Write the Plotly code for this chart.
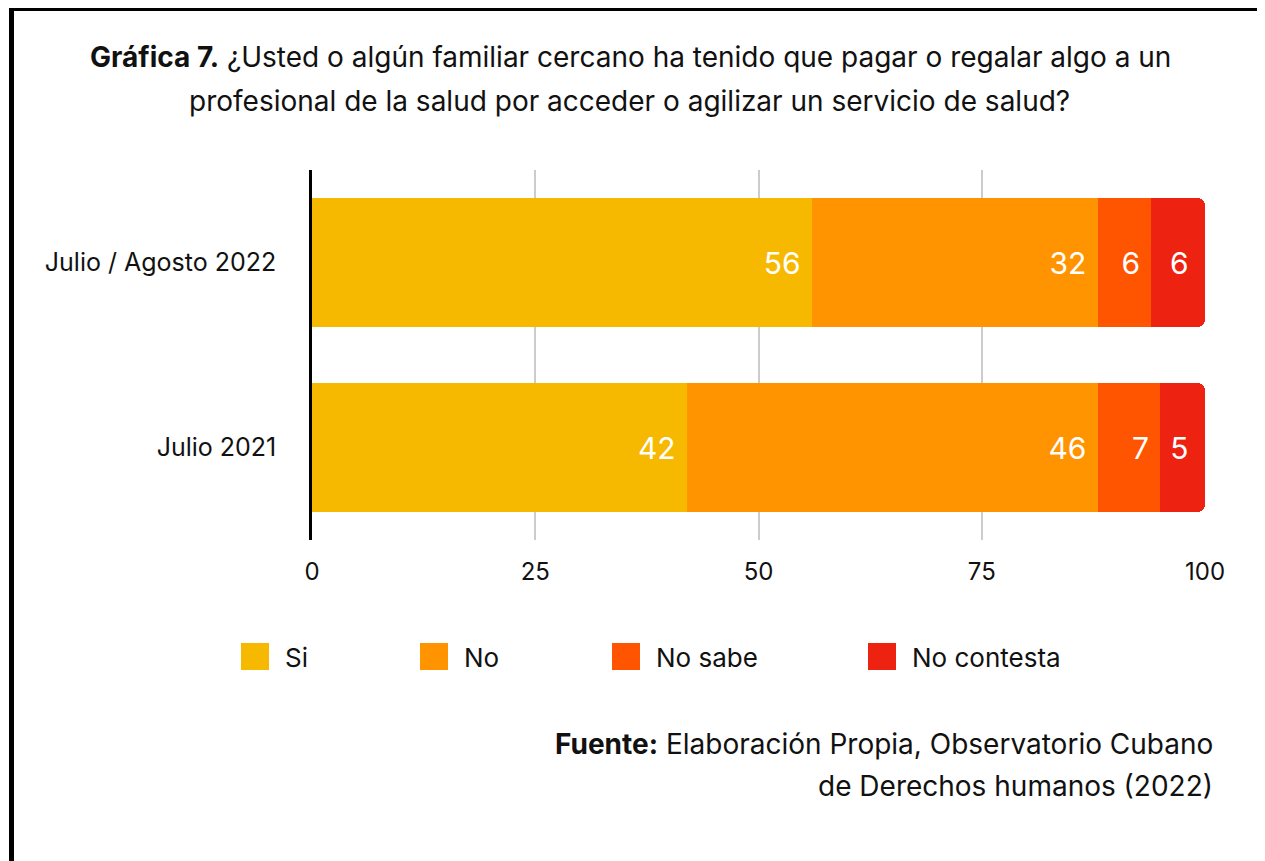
import plotly.graph_objects as go

categories = ["Julio 2021", "Julio / Agosto 2022"]
series_names = ["Si", "No", "No sabe", "No contesta"]
si = [42, 56]
no = [46, 32]
no_sabe = [7, 6]
no_contesta = [5, 6]
x_ticks = [0, 25, 50, 75, 100]
colors = ["#F7B900", "#FF9400", "#FF5500", "#EE2211"]

FONT = "Inter"
OFF = 8  # page body margin
W, H = 1257, 853
# plot area in screen pixels: x 312..1205, y 170..540
L, R, T, B = 312 - OFF, W - (1205 - OFF), 170 - OFF, H - (540 - OFF)
PW, PH = W - L - R, H - T - B


def px(xs):
    return (xs - OFF - L) / PW


def py(ys):
    return (H - B - (ys - OFF)) / PH


fig = go.Figure()
for name, vals, col in zip(series_names, [si, no, no_sabe, no_contesta], colors):
    fig.add_trace(go.Bar(
        y=categories, x=vals, name=name, orientation="h",
        marker=dict(color=col, line=dict(width=0)),
        text=vals, texttemplate="%{x}\u00a0", textposition="inside",
        insidetextanchor="end", textangle=0,
        textfont=dict(family=FONT, size=30, color="white"),
        showlegend=False, hoverinfo="x+name",
    ))

shapes = []
annotations = []

# outer frame
shapes.append(dict(type="rect", xref="paper", yref="paper",
                   x0=px(11.5), x1=px(1263), y0=py(8.5), y1=py(880),
                   line=dict(color="black", width=5), fillcolor="rgba(0,0,0,0)", layer="below"))

# title
annotations.append(dict(xref="paper", yref="paper", x=px(630), y=py(57), xanchor="center", yanchor="middle",
                        showarrow=False,
                        text="<b>Gráfica 7.</b> ¿Usted o algún familiar cercano ha tenido que pagar o regalar algo a un",
                        font=dict(family=FONT, size=28, color="#111")))
annotations.append(dict(xref="paper", yref="paper", x=px(629), y=py(101), xanchor="center", yanchor="middle",
                        showarrow=False,
                        text="profesional de la salud por acceder o agilizar un servicio de salud?",
                        font=dict(family=FONT, size=28, color="#111")))

# manual legend
leg_x = [241, 420, 612, 868]
for name, col, lx in zip(series_names, colors, leg_x):
    shapes.append(dict(type="rect", xref="paper", yref="paper",
                       x0=px(lx), x1=px(lx + 28), y0=py(670), y1=py(643),
                       line=dict(width=0), fillcolor=col))
    annotations.append(dict(xref="paper", yref="paper", x=px(lx + 42), y=py(657),
                            xanchor="left", yanchor="middle", showarrow=False, text=name,
                            font=dict(family=FONT, size=26, color="#111")))

# source
annotations.append(dict(xref="paper", yref="paper", x=px(1215), y=py(744), xanchor="right", yanchor="middle",
                        showarrow=False,
                        text="<b>Fuente:</b> Elaboración Propia, Observatorio Cubano",
                        font=dict(family=FONT, size=28, color="#111")))
annotations.append(dict(xref="paper", yref="paper", x=px(1215), y=py(786), xanchor="right", yanchor="middle",
                        showarrow=False,
                        text="de Derechos humanos (2022)",
                        font=dict(family=FONT, size=28, color="#111")))

fig.update_layout(
    width=W, height=H,
    margin=dict(l=L, r=R, t=T, b=B, autoexpand=False),
    paper_bgcolor="white", plot_bgcolor="white",
    barmode="stack", bargap=0.3, barcornerradius=8,
    shapes=shapes, annotations=annotations,
    xaxis=dict(range=[0, 100], tickvals=x_ticks, ticktext=[str(t) for t in x_ticks],
               showgrid=True, gridcolor="#CCCCCC", gridwidth=1.5, zeroline=False,
               showline=False, ticks="", ticklabelstandoff=15,
               tickfont=dict(family=FONT, size=24, color="#111"), fixedrange=True),
    yaxis=dict(categoryorder="array", categoryarray=categories,
               showline=True, linecolor="black", linewidth=2.5, showgrid=False,
               ticks="", ticklabelstandoff=28,
               tickfont=dict(family=FONT, size=25, color="#111"), fixedrange=True),
    font=dict(family=FONT),
)

fig.write_html("out.html")
